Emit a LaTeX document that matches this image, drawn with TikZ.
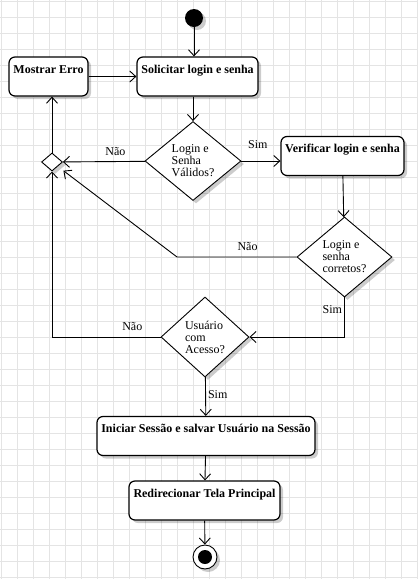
\documentclass[tikz,border=0pt]{standalone}
\usepackage{fontspec}
\setmainfont{Liberation Serif}
\usetikzlibrary{arrows.meta,shapes.geometric,shadows,positioning,calc}
\definecolor{gridgray}{RGB}{228,228,228}

\begin{document}
\begin{tikzpicture}[x=1pt,y=-1pt,
    every node/.style={font=\fontsize{12pt}{12pt}\selectfont},
    shadowed/.style={drop shadow={shadow xshift=3pt,shadow yshift=-3pt,opacity=0.2,fill=black}},
    actstyle/.style={rectangle,rounded corners=6pt,draw,line width=1.2pt,fill=white,shadowed,
        font=\fontsize{12pt}{12pt}\selectfont\bfseries,text height=10pt,text depth=17pt,
        inner ysep=6pt,inner xsep=2pt},
    decstyle/.style={diamond,aspect=1.2,draw,line width=0.9pt,fill=white,shadowed,
        align=left,inner sep=0pt},
    startstyle/.style={circle,fill=black,minimum size=18pt,inner sep=0pt,shadowed},
    endstyle/.style={circle,draw,line width=0.9pt,fill=white,minimum size=24pt,inner sep=0pt,shadowed,
        path picture={\fill[black] (path picture bounding box.center) circle (7pt);}},
    arr/.style={-{Straight Barb[length=6pt,width=11pt]},line width=0.9pt},
    lbl/.style={inner sep=2pt},
    gridline/.style={gridgray,line width=0.8pt}]
    \useasboundingbox (0,0) rectangle (418,579);
    \fill[white] (0,0) rectangle (418,579);
    \foreach \g in {1,17,...,417}
        \draw[gridline] (\g,0) -- (\g,579);
    \foreach \g in {1,17,...,577}
        \draw[gridline] (0,\g) -- (418,\g);

    \node[startstyle] (start) at (194,18) {};
    \node[actstyle,minimum width=79pt] (erro) at (48.5,76.5) {Mostrar Erro};
    \node[actstyle,minimum width=121pt] (solicitar) at (197.5,76.5) {Solicitar login e senha};
    \node[decstyle,minimum width=96pt,minimum height=79pt] (dec1) at (193,161) {Login e\\Senha\\Válidos?};
    \node[decstyle,minimum width=21pt,minimum height=18pt] (merge) at (52,162) {};
    \node[actstyle,minimum width=123pt] (verificar) at (342.5,156) {Verificar login e senha};
    \node[decstyle,minimum width=95pt,minimum height=80pt] (dec2) at (344.5,257) {Login e\\senha\\corretos?};
    \coordinate (bend2) at (177,257);
    \node[decstyle,minimum width=88pt,minimum height=80pt] (dec3) at (205,337) {Usuário\\com\\Acesso?};
    \node[actstyle,minimum width=218pt] (iniciar) at (206,436) {Iniciar Sessão e salvar Usuário na Sessão};
    \node[actstyle,minimum width=151pt] (redir) at (204.5,500.5) {Redirecionar Tela Principal};
    \node[endstyle] (end) at (205,557) {};

    \draw[arr] (start) -- (start |- solicitar.north);
    \draw[arr] (erro) -- (solicitar);
    \draw[arr] (solicitar.south -| dec1) -- (dec1);
    \draw[arr] (dec1) -- node[lbl,above=3pt,pos=0.36] {Não} (merge);
    \draw[arr] (dec1.east) -- node[lbl,above=10pt,pos=0.42] {Sim} (dec1.east -| verificar.west);
    \draw[arr] (merge.north) -- (merge.north |- erro.south);
    \draw[arr] (verificar) -- (dec2);
    \draw[arr,shorten >=7pt] (dec2) -- node[lbl,above=4pt,pos=0.41] {Não} (bend2) -- (merge);
    \draw[arr] (dec2) |- node[lbl,left,pos=0.15] {Sim} (dec3);
    \draw[arr] (dec3) -| node[lbl,above=4pt,pos=0.13] {Não} (merge);
    \draw[arr] (dec3) -- node[lbl,right,pos=0.45] {Sim} (iniciar);
    \draw[arr] (iniciar) -- (redir);
    \draw[arr] (redir) -- (end);
\end{tikzpicture}
\end{document}
